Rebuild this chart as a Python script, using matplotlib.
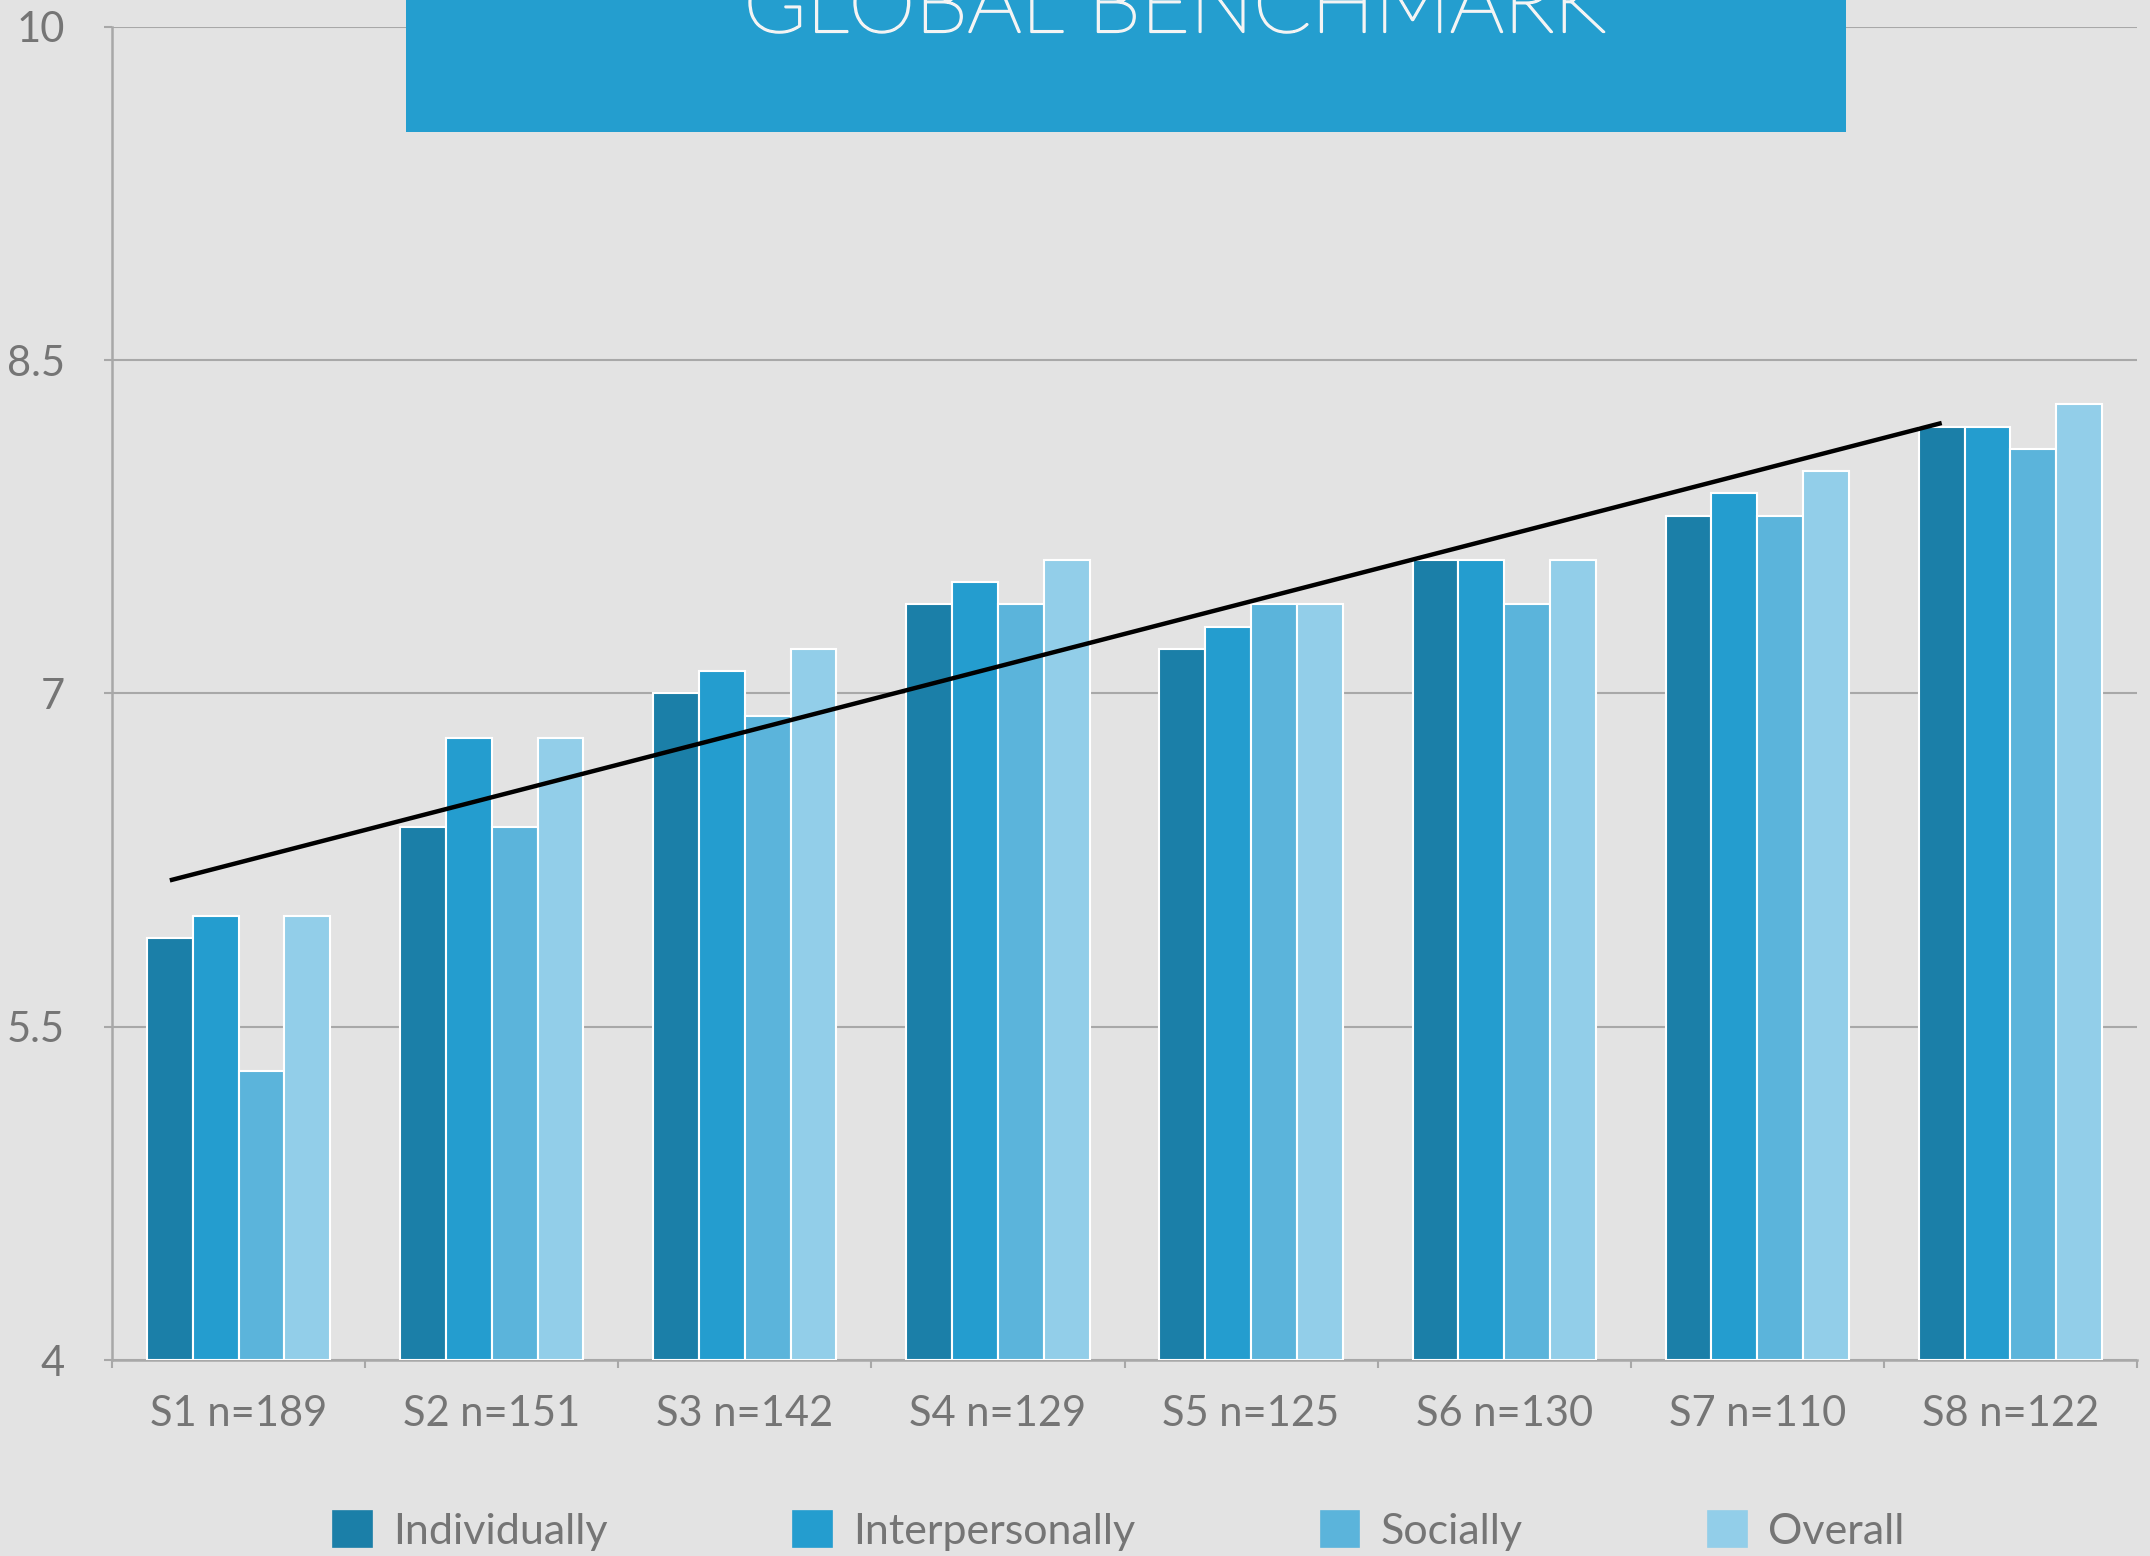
import matplotlib
matplotlib.use("Agg")
import matplotlib.pyplot as plt
import matplotlib.patheffects as pe
import numpy as np
from matplotlib.patches import Rectangle

plt.rcParams['font.family'] = ['Lato', 'DejaVu Sans']

categories = ["S1 n=189", "S2 n=151", "S3 n=142", "S4 n=129",
              "S5 n=125", "S6 n=130", "S7 n=110", "S8 n=122"]
series_names = ["Individually", "Interpersonally", "Socially", "Overall"]
individually = [5.9, 6.4, 7.0, 7.4, 7.2, 7.6, 7.8, 8.2]
interpersonally = [6.0, 6.8, 7.1, 7.5, 7.3, 7.6, 7.9, 8.2]
socially = [5.3, 6.4, 6.9, 7.4, 7.4, 7.4, 7.8, 8.1]
overall = [6.0, 6.8, 7.2, 7.6, 7.4, 7.6, 8.0, 8.3]
y_ticks = [4, 5.5, 7, 8.5, 10]
y_labels = ["4", "5.5", "7", "8.5", "10"]
title = "GLOBAL BENCHMARK"

colors = ["#1B7FA8", "#249DCF", "#5BB4DB", "#92CEE9"]
bg = "#E3E3E3"
grey = "#A8A8A8"
text_grey = "#757575"

fig = plt.figure(figsize=(21.5, 15.56), dpi=100, facecolor=bg)
ax = fig.add_axes([112 / 2150, 1 - 1360 / 1556, 2025 / 2150, (1360 - 26.7) / 1556])
ax.set_facecolor(bg)

x = np.arange(len(categories))
w = 0.181
all_series = [individually, interpersonally, socially, overall]
for i, (vals, name) in enumerate(zip(all_series, series_names)):
    ax.bar(x + (i - 1.5) * w, np.array(vals) - 4, width=w, bottom=4,
           color=colors[i], edgecolor="white", linewidth=1.5, label=name, zorder=3)

# linear trendline of the Individually series
coef = np.polyfit(x, individually, 1)
tx = np.array([x[0], x[-1]])
ax.plot(tx - 1.5 * w, np.polyval(coef, tx), color="black", lw=3.2, zorder=4,
        solid_capstyle="butt")

ax.set_xlim(-0.5, len(categories) - 0.5)
ax.set_ylim(4, 10)
ax.set_yticks(y_ticks)
ax.set_yticklabels(y_labels)
ax.set_xticks(np.arange(len(categories) + 1) - 0.5)
ax.set_xticklabels([])
ax.set_xticks(x, minor=True)
ax.set_xticklabels(categories, minor=True)

ax.tick_params(axis="y", direction="out", length=5.8, width=1.5, color=grey,
               pad=28, labelsize=30, labelcolor=text_grey)
ax.tick_params(axis="x", which="major", direction="out", length=5.8, width=1.5,
               color=grey)
ax.tick_params(axis="x", which="minor", length=0, pad=25, labelsize=30,
               labelcolor=text_grey)

ax.grid(axis="y", color=grey, lw=1.5, zorder=0)
ax.set_axisbelow(True)
for s in ["top", "right"]:
    ax.spines[s].set_visible(False)
for s in ["left", "bottom"]:
    ax.spines[s].set_color(grey)
    ax.spines[s].set_linewidth(1.8)

leg = ax.legend(loc="center", bbox_to_anchor=(1119 / 2150, 1 - 1531 / 1556),
                bbox_transform=fig.transFigure, ncol=4, frameon=False,
                fontsize=31, handlelength=0.9, handleheight=0.9,
                handletextpad=0.5, columnspacing=4.3, labelcolor=text_grey,
                borderaxespad=0, borderpad=0)
for h, c in zip(leg.legend_handles, colors):
    h.set_edgecolor(c)
    h.set_linewidth(1.2)

# title banner
fig.patches.append(Rectangle((406 / 2150, 1 - 132 / 1556), 1440 / 2150, 0.2,
                             transform=fig.transFigure, facecolor="#249ECF",
                             edgecolor="none", zorder=5))
fig.text(1175 / 2150, 1 - 32 / 1556, title, ha="center", va="baseline",
         fontsize=61, fontweight="light", color="#F4F4F4", zorder=6,
         path_effects=[pe.withStroke(linewidth=1.6, foreground="#F4F4F4")])

fig.savefig("out.png", dpi=100, facecolor=bg)
